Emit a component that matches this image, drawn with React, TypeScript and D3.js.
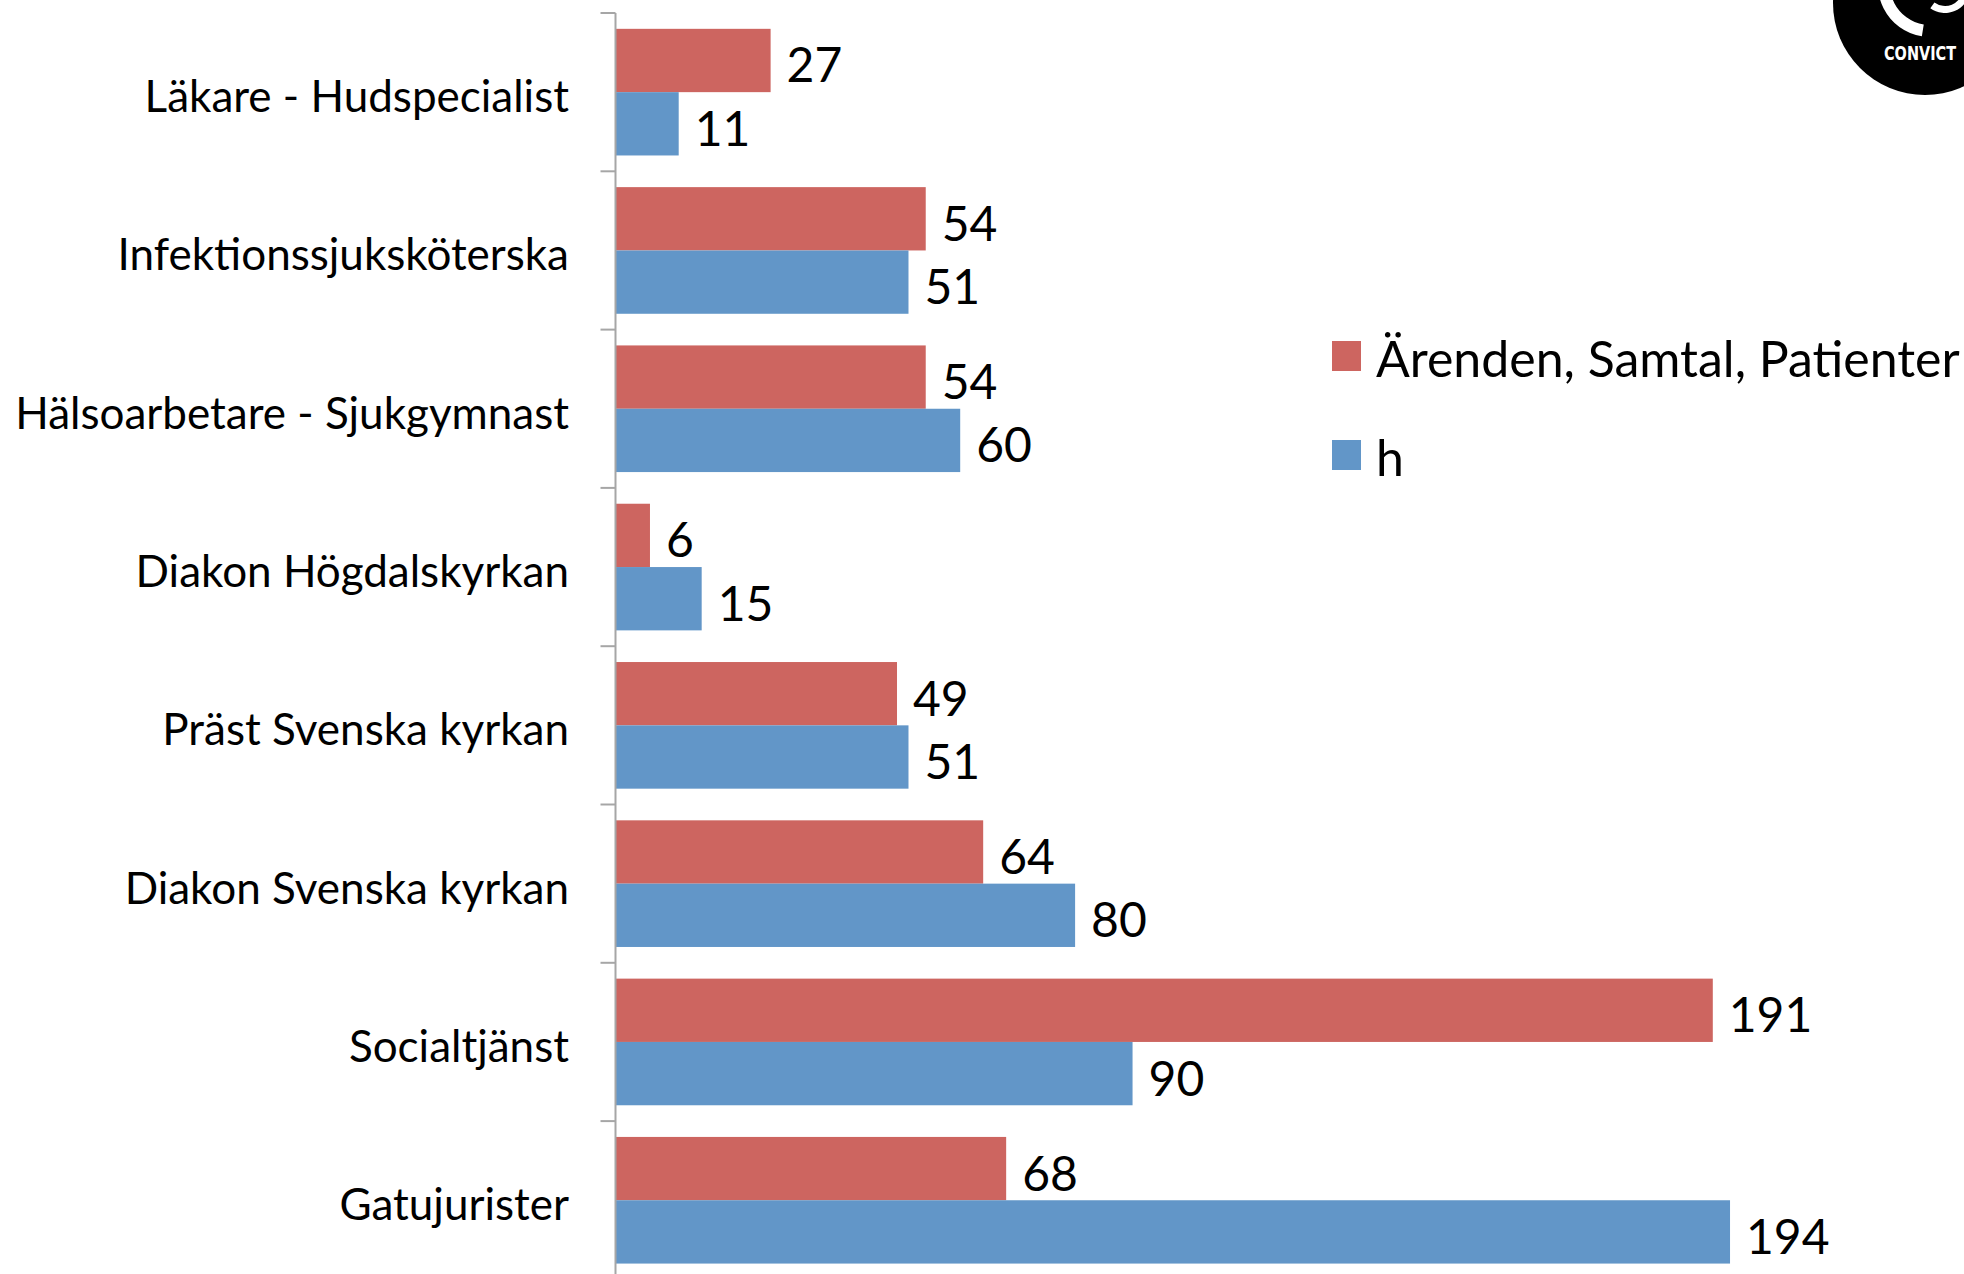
import { useEffect, useRef } from 'react';
import * as d3 from 'd3';

const categories = [
  'Läkare - Hudspecialist',
  'Infektionssjuksköterska',
  'Hälsoarbetare - Sjukgymnast',
  'Diakon Högdalskyrkan',
  'Präst Svenska kyrkan',
  'Diakon Svenska kyrkan',
  'Socialtjänst',
  'Gatujurister',
];
const seriesNames = ['Ärenden, Samtal, Patienter', 'h'];
const arenden = [27, 54, 54, 6, 49, 64, 191, 68];
const hValues = [11, 51, 60, 15, 51, 80, 90, 194];
const colors = ['#CD6560', '#6296C8'];

const App: React.FC = () => {
  const ref = useRef<SVGSVGElement>(null);

  useEffect(() => {
    const width = 1964;
    const height = 1274;
    const font = 'Lato, "Open Sans", sans-serif';

    const svg = d3.select(ref.current)
      .attr('width', width)
      .attr('height', height);
    svg.selectAll('*').remove();

    const x0 = 615.5;
    const x = d3.scaleLinear().domain([0, 200]).range([x0, x0 + 1149]);
    const y = d3.scaleBand<string>()
      .domain(categories)
      .range([13, 13 + 8 * 158.3]);
    const inner = d3.scaleBand<number>()
      .domain([0, 1])
      .range([0, y.bandwidth()])
      .paddingInner(0)
      .paddingOuter(0.25);

    const data = categories.map((c, i) => ({ c, v: [arenden[i], hValues[i]] }));

    const g = svg.append('g');

    const groups = g.selectAll('g.cat')
      .data(data)
      .enter()
      .append('g')
      .attr('class', 'cat')
      .attr('transform', d => `translate(0, ${y(d.c)})`);

    groups.selectAll('rect')
      .data(d => d.v.map((v, s) => ({ v, s })))
      .enter()
      .append('rect')
      .attr('x', x(0))
      .attr('y', d => inner(d.s)!)
      .attr('width', d => x(d.v) - x(0))
      .attr('height', inner.bandwidth())
      .attr('fill', d => colors[d.s]);

    groups.selectAll('text.val')
      .data(d => d.v.map((v, s) => ({ v, s })))
      .enter()
      .append('text')
      .attr('class', 'val')
      .attr('x', d => x(d.v) + 16)
      .attr('y', d => inner(d.s)! + inner.bandwidth() / 2 + 22)
      .style('font-family', font)
      .style('font-size', '48px')
      .style('fill', '#000')
      .text(d => d.v);

    // category labels
    groups.append('text')
      .attr('x', 569)
      .attr('y', y.bandwidth() / 2 + 20)
      .attr('text-anchor', 'end')
      .style('font-family', font)
      .style('font-size', '44px')
      .style('fill', '#000')
      .text(d => d.c);

    // axis line + ticks at category boundaries
    g.append('line')
      .attr('x1', x0).attr('x2', x0)
      .attr('y1', 13).attr('y2', height)
      .attr('stroke', '#A6A6A6')
      .attr('stroke-width', 2);
    const bounds = categories.map(c => y(c)!);
    g.selectAll('line.tick')
      .data(bounds)
      .enter()
      .append('line')
      .attr('class', 'tick')
      .attr('x1', x0 - 15).attr('x2', x0)
      .attr('y1', d => d).attr('y2', d => d)
      .attr('stroke', '#A6A6A6')
      .attr('stroke-width', 2);

    // legend
    const legend = svg.append('g');
    const legendY = [341, 440];
    seriesNames.forEach((name, i) => {
      legend.append('rect')
        .attr('x', 1332)
        .attr('y', legendY[i])
        .attr('width', 29)
        .attr('height', 30)
        .attr('fill', colors[i]);
      legend.append('text')
        .attr('x', 1376)
        .attr('y', legendY[i] + 36)
        .style('font-family', font)
        .style('font-size', '50px')
        .style('fill', '#000')
        .text(name);
    });

    // logo in the corner
    const logo = svg.append('g');
    logo.append('circle')
      .attr('cx', 1925).attr('cy', 3).attr('r', 92)
      .attr('fill', '#000');
    logo.append('path')
      .attr('d', d3.arc<any>()({ innerRadius: 40, outerRadius: 52, startAngle: -Math.PI * 0.95, endAngle: -Math.PI * 0.35 }))
      .attr('transform', 'translate(1930, -15)')
      .attr('fill', '#fff');
    logo.append('path')
      .attr('d', d3.arc<any>()({ innerRadius: 18, outerRadius: 25, startAngle: Math.PI * 0.55, endAngle: Math.PI * 1.2 }))
      .attr('transform', 'translate(1945, -12)')
      .attr('fill', '#fff');
    logo.append('text')
      .attr('x', 1884)
      .attr('y', 60)
      .attr('textLength', 72)
      .attr('lengthAdjust', 'spacingAndGlyphs')
      .style('font-family', '"DejaVu Sans Condensed", "DejaVu Sans", sans-serif')
      .style('font-weight', 'bold')
      .style('font-size', '20px')
      .style('fill', '#fff')
      .text('CONVICT');
  }, []);

  return (
    <svg ref={ref} style={{ position: 'absolute', left: 0, top: 0, display: 'block' }}></svg>
  );
};

export default App;
